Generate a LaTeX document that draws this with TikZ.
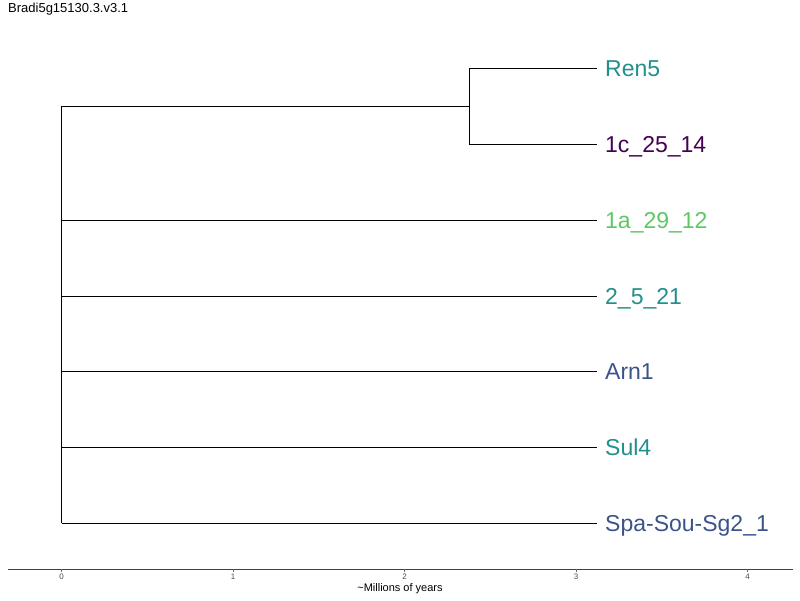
\documentclass[tikz,border=0pt]{standalone}
\usepackage{fontspec}
\setmainfont{Liberation Sans}
\definecolor{vteal}{HTML}{21908C}
\definecolor{vpurple}{HTML}{440154}
\definecolor{vgreen}{HTML}{5DC863}
\definecolor{vblue}{HTML}{3B528B}
\tikzset{
  branch/.style={black, line width=0.9pt},
  leaf/.style={anchor=base west, inner sep=0pt, yshift=-8.3pt, font=\fontsize{23}{23}\selectfont},
  ticklab/.style={text=black!70, font=\fontsize{8}{8}\selectfont, inner sep=0pt}
}
\begin{document}
\begin{tikzpicture}[x=1pt, y=-1pt]
  \useasboundingbox (0,0) rectangle (800,600);
  \node[anchor=west, inner sep=0pt, font=\fontsize{13}{13}\selectfont] (title) at (8,9.5) {Bradi5g15130.3.v3.1};
  % tree nodes
  \coordinate (root) at (61.5,106);
  \coordinate (rootb) at (61.5,523);
  \coordinate (inner) at (469,106);
  \coordinate (innera) at (469,68);
  \coordinate (innerb) at (469,144);
  \coordinate (t1) at (597,68);
  \coordinate (t2) at (597,144);
  \coordinate (t3) at (597,220);
  \coordinate (t4) at (597,296);
  \coordinate (t5) at (597,371);
  \coordinate (t6) at (597,447);
  \coordinate (t7) at (597,523);
  \draw[branch] (root) -- (rootb);
  \draw[branch] (root) -- (inner);
  \draw[branch] (innera) -- (innerb);
  \draw[branch] (innera) -- (t1);
  \draw[branch] (innerb) -- (t2);
  \foreach \t in {3,...,7}
    \draw[branch] (root |- t\t) -- (t\t);
  % leaf labels
  \node[leaf, text=vteal] (ren) at (605,68) {Ren5};
  \node[leaf, text=vpurple] (c1) at (605,144) {1c\_25\_14};
  \node[leaf, text=vgreen] (a1) at (605,220) {1a\_29\_12};
  \node[leaf, text=vteal] (two) at (605,296) {2\_5\_21};
  \node[leaf, text=vblue] (arn) at (605,371) {Arn1};
  \node[leaf, text=vteal] (sul) at (605,447) {Sul4};
  \node[leaf, text=vblue] (spa) at (605,523) {Spa-Sou-Sg2\_1};
  % time axis
  \draw[black!75, line width=1pt] (8,569) -- (793,569);
  \foreach \v/\x in {0/61.5,1/233,2/404.5,3/576,4/747.5} {
    \draw[black!60, line width=0.6pt] (\x,569) -- (\x,572);
    \node[ticklab] (tick\v) at (\x,577) {\v};
  }
  \node[font=\fontsize{11}{11}\selectfont, inner sep=0pt] (axlab) at (400,589) {\textasciitilde Millions of years};
\end{tikzpicture}
\end{document}
